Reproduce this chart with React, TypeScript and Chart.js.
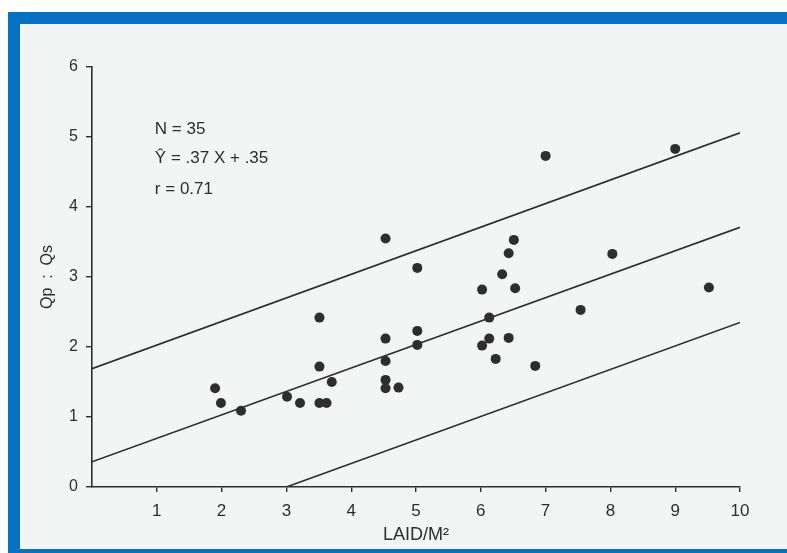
import React, { useEffect, useRef } from "react";
import { Chart, registerables } from "chart.js";

Chart.register(...registerables);

// Scatter observations: LAID/M² (x) vs Qp:Qs (y)
const laid: number[] = [
  7.0, 9.0, 4.53, 6.51, 6.43, 8.03, 5.02, 6.33, 6.02, 6.53, 9.52, 7.54,
  3.51, 6.13, 5.02, 4.53, 6.13, 6.43, 5.02, 6.02, 4.53, 6.23, 3.51, 6.84,
  3.70, 4.53, 4.53, 4.73, 1.90, 1.99, 2.30, 3.01, 3.21, 3.51, 3.62,
];
const qpqs: number[] = [
  4.73, 4.83, 3.55, 3.53, 3.34, 3.33, 3.13, 3.04, 2.82, 2.84, 2.85, 2.53,
  2.42, 2.42, 2.23, 2.12, 2.12, 2.13, 2.03, 2.02, 1.80, 1.83, 1.72, 1.73,
  1.50, 1.53, 1.41, 1.42, 1.41, 1.20, 1.09, 1.29, 1.20, 1.20, 1.20,
];

// Regression line and its two bounding lines (endpoints as drawn)
const upperX: number[] = [0, 10];
const upperY: number[] = [1.69, 5.06];
const fitX: number[] = [0, 10];
const fitY: number[] = [0.36, 3.71];
const lowerX: number[] = [3.0, 10];
const lowerY: number[] = [0, 2.35];

const xTicks: number[] = [0, 1, 2, 3, 4, 5, 6, 7, 8, 9, 10];
const yTicks: number[] = [0, 1, 2, 3, 4, 5, 6];

const statsText: string[] = ["N = 35", "Ŷ = .37 X + .35", "r = 0.71"];
const statsY: number[] = [5.11, 4.7, 4.25];
const statsX = 0.97;

const xTitle = "LAID/M²";
const yTitle = "Qp  :  Qs";

const INK = "#2e2e2e";
const FONT = '"Liberation Sans", "DejaVu Sans", sans-serif';

function pairs(xs: number[], ys: number[]) {
  return xs.map((x, i) => ({ x, y: ys[i] }));
}

export default function App() {
  const ref = useRef<HTMLCanvasElement | null>(null);

  useEffect(() => {
    if (!ref.current) return;
    const statsPlugin = {
      id: "stats",
      afterDatasetsDraw(chart: any) {
        const { ctx, scales } = chart;
        ctx.save();
        ctx.fillStyle = INK;
        ctx.font = `17px ${FONT}`;
        ctx.textAlign = "left";
        ctx.textBaseline = "middle";
        statsText.forEach((t, i) => {
          ctx.fillText(
            t,
            scales.x.getPixelForValue(statsX),
            scales.y.getPixelForValue(statsY[i])
          );
        });
        ctx.restore();
      },
    };

    const lineStyle = {
      showLine: true,
      borderColor: INK,
      borderWidth: 1.6,
      pointRadius: 0,
      pointHoverRadius: 0,
      fill: false,
    };

    const chart = new Chart(ref.current, {
      type: "scatter",
      data: {
        datasets: [
          {
            label: "obs",
            data: pairs(laid, qpqs),
            backgroundColor: INK,
            borderColor: INK,
            pointRadius: 5,
            borderWidth: 0,
          },
          { label: "upper", data: pairs(upperX, upperY), ...lineStyle },
          { label: "fit", data: pairs(fitX, fitY), ...lineStyle },
          { label: "lower", data: pairs(lowerX, lowerY), ...lineStyle },
        ],
      },
      options: {
        animation: false,
        responsive: false,
        layout: { padding: { left: 0, top: 67, right: 47, bottom: 0 } },
        plugins: {
          legend: { display: false },
          tooltip: { enabled: false },
        },
        scales: {
          x: {
            type: "linear",
            min: 0,
            max: 10,
            afterFit: (s: any) => {
              s.height = 66;
            },
            afterBuildTicks: (s: any) => {
              s.ticks = xTicks.map((v) => ({ value: v }));
            },
            ticks: {
              color: INK,
              font: { family: FONT, size: 17 },
              padding: 9,
              maxRotation: 0,
              autoSkip: false,
              callback: (v: any) => (v === 0 ? "" : String(v)),
            },
            grid: {
              display: true,
              drawOnChartArea: false,
              drawTicks: true,
              tickLength: 5,
              lineWidth: 1.4,
              color: INK,
              tickColor: (c: any) =>
                c.tick && c.tick.value === 0 ? "rgba(0,0,0,0)" : INK,
            },
            border: { display: true, color: INK, width: 1.6 },
            title: {
              display: true,
              text: xTitle,
              color: INK,
              font: { family: FONT, size: 18 },
              padding: { top: 0, bottom: 7 },
            },
          },
          y: {
            type: "linear",
            min: 0,
            max: 6,
            afterFit: (s: any) => {
              s.width = 92;
            },
            afterBuildTicks: (s: any) => {
              s.ticks = yTicks.map((v) => ({ value: v }));
            },
            ticks: {
              color: INK,
              font: { family: FONT, size: 16 },
              padding: 8,
            },
            grid: {
              display: true,
              drawOnChartArea: false,
              drawTicks: true,
              tickLength: 6,
              lineWidth: 1.4,
              color: INK,
              tickColor: INK,
            },
            border: { display: true, color: INK, width: 1.6 },
            title: {
              display: true,
              text: yTitle,
              color: INK,
              font: { family: FONT, size: 16 },
              padding: { top: 38, bottom: 0 },
            },
          },
        },
      },
      plugins: [statsPlugin],
    });
    return () => chart.destroy();
  }, []);

  return (
    <div
      style={{
        position: "fixed",
        left: 0,
        top: 0,
        width: 787,
        height: 553,
        background: "#ffffff",
        overflow: "hidden",
      }}
    >
      <div
        style={{
          position: "absolute",
          left: 8,
          top: 12,
          right: 0,
          bottom: 0,
          background: "#0670c1",
        }}
      />
      <div
        style={{
          position: "absolute",
          left: 20,
          top: 24,
          right: 0,
          bottom: 4,
          background: "#f3f4f4",
        }}
      />
      <canvas
        ref={ref}
        width={787}
        height={553}
        style={{ position: "absolute", left: 0, top: 0, width: 787, height: 553 }}
      />
    </div>
  );
}
